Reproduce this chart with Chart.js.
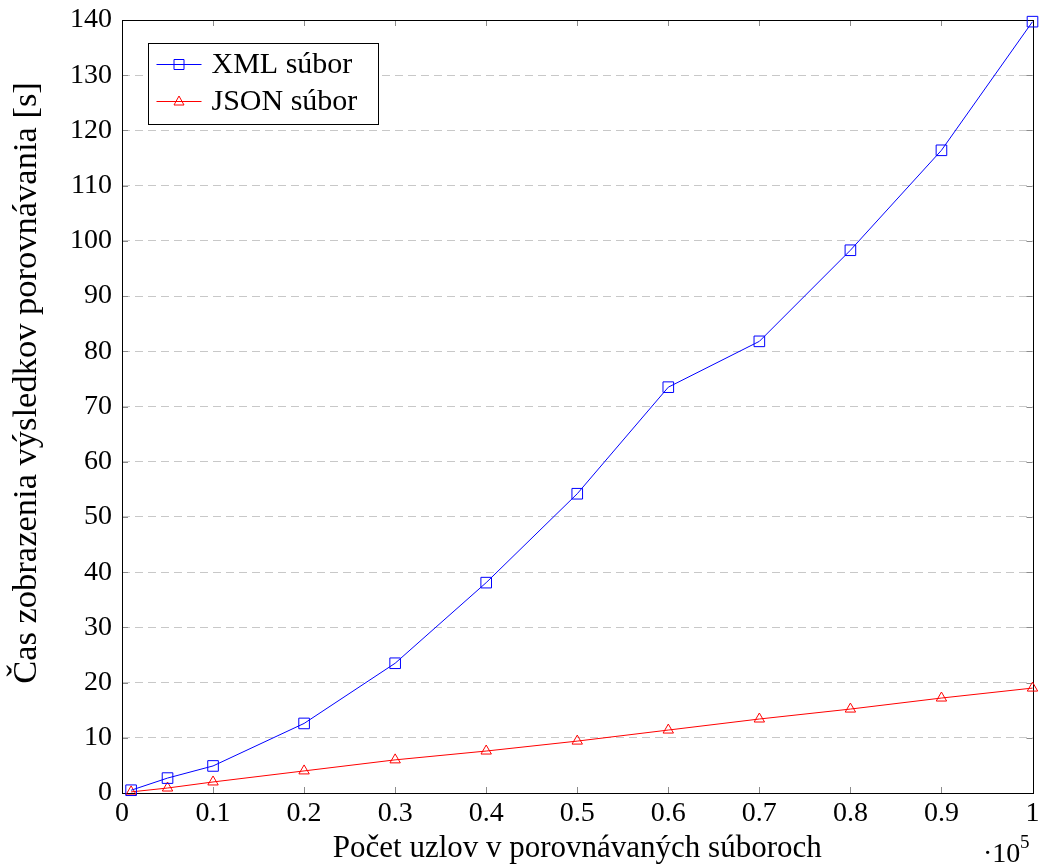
<!DOCTYPE html>
<html>
<head>
<meta charset="utf-8">
<script src="https://cdn.jsdelivr.net/npm/chart.js@4"></script>
<style>
  html, body { margin: 0; padding: 0; background: #fff; }
  #wrap { width: 1041px; height: 867px; }
</style>
</head>
<body>
<div id="wrap"><canvas id="chart" width="1041" height="867"></canvas></div>
<script>
/* Node count vs. render time, XML vs JSON. x is in units of 10^5 nodes. */
const nodes = [0.01, 0.05, 0.1, 0.2, 0.3, 0.4, 0.5, 0.6, 0.7, 0.8, 0.9, 1.0];
const xmlTimes = [0.5, 2.7, 4.9, 12.6, 23.5, 38.1, 54.2, 73.5, 81.8, 98.3, 116.4, 139.7];
const jsonTimes = [0.2, 0.9, 2.0, 4.0, 6.0, 7.6, 9.4, 11.4, 13.4, 15.2, 17.2, 19.0];
const xTicks = [0, 0.1, 0.2, 0.3, 0.4, 0.5, 0.6, 0.7, 0.8, 0.9, 1];
const xTickLabels = ["0", "0.1", "0.2", "0.3", "0.4", "0.5", "0.6", "0.7", "0.8", "0.9", "1"];
const yTitle = "Čas zobrazenia výsledkov porovnávania [s]";

const FONT = "'Liberation Serif', serif";
const pts = ys => nodes.map((x, i) => ({ x: x, y: ys[i] }));

// Box around the plot, with short ticks pointing inward on all four sides.
const frame = {
  id: "frame",
  beforeDatasetsDraw(chart) {
    const { ctx, chartArea: a, scales } = chart;
    ctx.save();
    ctx.strokeStyle = "#8c8c8c";
    ctx.lineWidth = 1;
    const len = 6;
    ctx.beginPath();
    scales.x.ticks.forEach(t => {
      const px = Math.round(scales.x.getPixelForValue(t.value)) + 0.5;
      ctx.moveTo(px, a.bottom); ctx.lineTo(px, a.bottom - len);
      ctx.moveTo(px, a.top); ctx.lineTo(px, a.top + len);
    });
    scales.y.ticks.forEach(t => {
      const py = Math.round(scales.y.getPixelForValue(t.value)) + 0.5;
      ctx.moveTo(a.left, py); ctx.lineTo(a.left + len, py);
      ctx.moveTo(a.right, py); ctx.lineTo(a.right - len, py);
    });
    ctx.stroke();
    ctx.strokeStyle = "#000";
    ctx.strokeRect(Math.round(a.left) + 0.5, Math.round(a.top) + 0.5,
      Math.round(a.right - a.left), Math.round(a.bottom - a.top));
    ctx.restore();
  },
  afterDraw(chart) {
    const { ctx } = chart;
    ctx.save();
    ctx.fillStyle = "#000";

    // y axis title, drawn by hand so it can sit where the original has it
    ctx.save();
    ctx.translate(27, 383);
    ctx.rotate(-Math.PI / 2);
    ctx.font = "34.5px " + FONT;
    ctx.textAlign = "center";
    ctx.textBaseline = "middle";
    ctx.fillText(yTitle, 0, 0);
    ctx.restore();

    // scale factor note under the x axis
    ctx.textBaseline = "alphabetic";
    ctx.font = "28px " + FONT;
    ctx.textAlign = "left";
    ctx.fillText("\u00b710", 983, 862);
    ctx.font = "19px " + FONT;
    ctx.fillText("5", 1020, 848);

    // legend box, top-left inside the plot
    const bx = 148.5, by = 43.5, bw = 230, bh = 81;
    ctx.fillStyle = "#fff";
    ctx.fillRect(bx, by, bw, bh);
    ctx.strokeStyle = "#000";
    ctx.lineWidth = 1;
    ctx.strokeRect(bx, by, bw, bh);
    chart.data.datasets.forEach((ds, i) => {
      const y = by + 21 + i * 37;
      ctx.strokeStyle = ds.borderColor;
      ctx.lineWidth = 1;
      ctx.beginPath();
      ctx.moveTo(bx + 8, y); ctx.lineTo(bx + 53, y);
      ctx.stroke();
      ctx.beginPath();
      if (ds.pointStyle === "rect") {
        ctx.rect(bx + 25.5, y - 5, 10, 10);
      } else {
        ctx.moveTo(bx + 30.5, y - 5.5);
        ctx.lineTo(bx + 35.5, y + 3.5);
        ctx.lineTo(bx + 25.5, y + 3.5);
        ctx.closePath();
      }
      ctx.stroke();
      ctx.fillStyle = "#000";
      ctx.font = "30px " + FONT;
      ctx.textBaseline = "middle";
      ctx.fillText(ds.label, bx + 63, y + 1);
    });
    ctx.restore();
  }
};

new Chart(document.getElementById("chart"), {
  type: "line",
  data: {
    datasets: [
      {
        label: "XML súbor",
        data: pts(xmlTimes),
        borderColor: "#0000ff",
        borderWidth: 1,
        pointStyle: "rect",
        pointRadius: 7.5,
        pointBorderWidth: 1,
        pointBackgroundColor: "rgba(0,0,0,0)",
        pointBorderColor: "#0000ff",
        tension: 0,
      },
      {
        label: "JSON súbor",
        data: pts(jsonTimes),
        borderColor: "#ff0000",
        borderWidth: 1,
        pointStyle: "triangle",
        pointRadius: 6,
        pointBorderWidth: 1,
        pointBackgroundColor: "rgba(0,0,0,0)",
        pointBorderColor: "#ff0000",
        tension: 0,
      },
    ],
  },
  options: {
    responsive: false,
    animation: false,
    clip: false,
    layout: { padding: { top: 20, right: 7, left: 0, bottom: 0 } },
    plugins: { legend: { display: false }, tooltip: { enabled: false } },
    scales: {
      x: {
        type: "linear",
        min: 0, max: 1,
        afterBuildTicks: s => { s.ticks = xTicks.map(v => ({ value: v })); },
        afterFit: s => { s.height = 74; s.paddingLeft = 0; s.paddingRight = 0; },
        grid: { display: false, drawTicks: false },
        border: { display: false },
        ticks: {
          padding: 4,
          color: "#000",
          font: { family: FONT, size: 28 },
          maxRotation: 0,
          autoSkip: false,
          callback: (v, i) => xTickLabels[i],
        },
        title: {
          display: true,
          text: "Počet uzlov v porovnávaných súboroch",
          color: "#000",
          font: { family: FONT, size: 31 },
          padding: { top: 0, bottom: 0 },
        },
      },
      y: {
        min: 0, max: 140,
        afterFit: s => { s.width = 122; s.paddingTop = 0; s.paddingBottom = 0; },
        grid: {
          drawTicks: false,
          color: ctx => (ctx.tick.value === 0 || ctx.tick.value === 140) ? "rgba(0,0,0,0)" : "#c8c8c8",
          lineWidth: 1,
        },
        border: { display: false, dash: [8, 5] },
        ticks: {
          stepSize: 10,
          padding: 10,
          color: "#000",
          font: { family: FONT, size: 28 },
        },
        title: { display: false },
      },
    },
  },
  plugins: [frame],
});
</script>
</body>
</html>
